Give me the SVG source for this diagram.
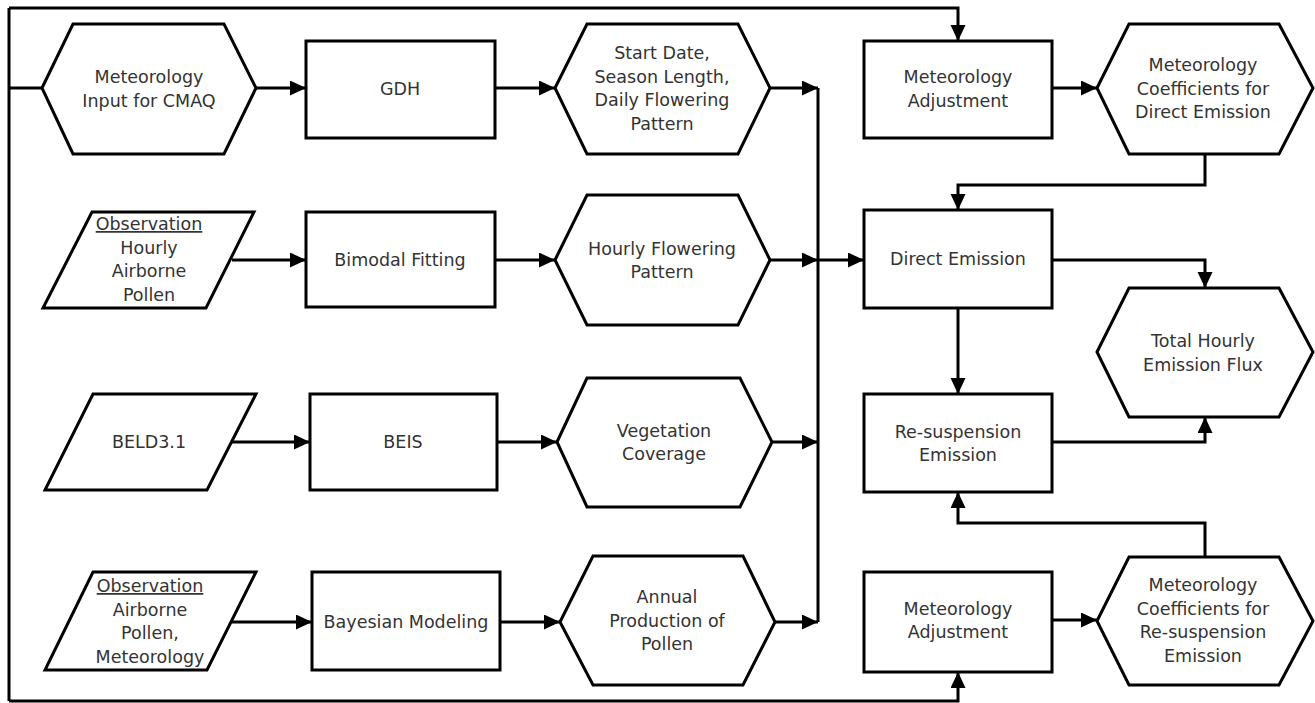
<svg xmlns="http://www.w3.org/2000/svg" width="1315" height="703" viewBox="0 0 1315 703">
<defs>
<marker id="ah" markerUnits="userSpaceOnUse" markerWidth="17" markerHeight="16" refX="16" refY="7.5" orient="auto">
<path d="M0,0 L16,7.5 L0,15 z" fill="#000"/>
</marker>
<style>
.n{fill:#fff;stroke:#000;stroke-width:3;stroke-linejoin:miter}
.c{fill:none;stroke:#000;stroke-width:3}
.a{marker-end:url(#ah)}
text{font-family:"DejaVu Sans","Liberation Sans",sans-serif;font-size:17.5px;fill:#333;text-anchor:middle}
.u{text-decoration:underline}
</style>
</defs>
<rect width="1315" height="703" fill="#fff"/>
<g id="connectors">
<path class="c" d="M9,8 V701"/>
<path class="c" d="M9,88 H42"/>
<path class="c a" d="M9,8 H958 V41"/>
<path class="c a" d="M9,701 H958 V672"/>
<path class="c a" d="M256,88 H306"/>
<path class="c a" d="M495,88 H555"/>
<path class="c a" d="M770,88 H818"/>
<path class="c" d="M818,88 V622"/>
<path class="c a" d="M232,260 H306"/>
<path class="c a" d="M495,260 H555"/>
<path class="c a" d="M770,260 H818"/>
<path class="c a" d="M818,260 H864"/>
<path class="c a" d="M232,442 H310"/>
<path class="c a" d="M497,442 H557"/>
<path class="c a" d="M772,442 H818"/>
<path class="c a" d="M232,622 H312"/>
<path class="c a" d="M500,622 H560"/>
<path class="c a" d="M775,622 H818"/>
<path class="c a" d="M1052,88 H1097"/>
<path class="c a" d="M1205,154 V185 H958 V210"/>
<path class="c a" d="M1052,260 H1205 V288"/>
<path class="c a" d="M958,308 V394"/>
<path class="c a" d="M1052,442 H1205 V417"/>
<path class="c a" d="M1205,557 V523 H958 V492"/>
<path class="c a" d="M1052,620 H1097"/>
</g>
<g id="met-input">
<polygon class="n" points="42,88 73,24 224,24 256,88 224,154 73,154"/>
<text x="149" y="83">Meteorology</text>
<text x="149" y="107">Input for CMAQ</text>
</g>
<g id="gdh">
<rect class="n" x="306" y="41" width="189" height="97"/>
<text x="400" y="95">GDH</text>
</g>
<g id="start-date">
<polygon class="n" points="555,88 587,24 738,24 770,88 738,154 587,154"/>
<text x="662" y="59">Start Date,</text>
<text x="662" y="82.5">Season Length,</text>
<text x="662" y="106">Daily Flowering</text>
<text x="662" y="129.5">Pattern</text>
</g>
<g id="obs-hourly">
<polygon class="n" points="92,212 254,212 206,308 43,308"/>
<text x="149" y="230" class="u">Observation</text>
<text x="149" y="253.5">Hourly</text>
<text x="149" y="277">Airborne</text>
<text x="149" y="300.5">Pollen</text>
</g>
<g id="bimodal">
<rect class="n" x="306" y="212" width="189" height="95"/>
<text x="400" y="266">Bimodal Fitting</text>
</g>
<g id="hourly-flowering">
<polygon class="n" points="555,260 587,195 738,195 770,260 738,325 587,325"/>
<text x="662" y="254.5">Hourly Flowering</text>
<text x="662" y="278">Pattern</text>
</g>
<g id="beld">
<polygon class="n" points="93,394 256,394 207,490 45,490"/>
<text x="149" y="448">BELD3.1</text>
</g>
<g id="beis">
<rect class="n" x="310" y="394" width="187" height="96"/>
<text x="403" y="448">BEIS</text>
</g>
<g id="vegetation">
<polygon class="n" points="557,442 587,378 740,378 772,442 740,507 587,507"/>
<text x="664" y="436.5">Vegetation</text>
<text x="664" y="460">Coverage</text>
</g>
<g id="obs-airborne">
<polygon class="n" points="93,572 256,572 207,670 45,670"/>
<text x="150" y="592" class="u">Observation</text>
<text x="150" y="615.5">Airborne</text>
<text x="150" y="639">Pollen,</text>
<text x="150" y="662.5">Meteorology</text>
</g>
<g id="bayesian">
<rect class="n" x="312" y="572" width="188" height="98"/>
<text x="406" y="628">Bayesian Modeling</text>
</g>
<g id="annual">
<polygon class="n" points="560,622 593,556 743,556 775,622 743,685 593,685"/>
<text x="667" y="603">Annual</text>
<text x="667" y="626.5">Production of</text>
<text x="667" y="650">Pollen</text>
</g>
<g id="met-adj-1">
<rect class="n" x="864" y="41" width="188" height="97"/>
<text x="958" y="83">Meteorology</text>
<text x="958" y="107">Adjustment</text>
</g>
<g id="met-coef-direct">
<polygon class="n" points="1097,88 1129,24 1279,24 1313,88 1279,154 1129,154"/>
<text x="1203" y="71">Meteorology</text>
<text x="1203" y="94.5">Coefficients for</text>
<text x="1203" y="118">Direct Emission</text>
</g>
<g id="direct-emission">
<rect class="n" x="864" y="210" width="188" height="98"/>
<text x="958" y="265">Direct Emission</text>
</g>
<g id="total-flux">
<polygon class="n" points="1097,352 1129,288 1279,288 1313,352 1279,417 1129,417"/>
<text x="1203" y="347">Total Hourly</text>
<text x="1203" y="370.5">Emission Flux</text>
</g>
<g id="resuspension">
<rect class="n" x="864" y="394" width="188" height="98"/>
<text x="958" y="437.5">Re-suspension</text>
<text x="958" y="461">Emission</text>
</g>
<g id="met-adj-2">
<rect class="n" x="864" y="572" width="188" height="100"/>
<text x="958" y="614.5">Meteorology</text>
<text x="958" y="638">Adjustment</text>
</g>
<g id="met-coef-resusp">
<polygon class="n" points="1097,621 1129,557 1279,557 1313,621 1279,685 1129,685"/>
<text x="1203" y="591">Meteorology</text>
<text x="1203" y="614.5">Coefficients for</text>
<text x="1203" y="638">Re-suspension</text>
<text x="1203" y="661.5">Emission</text>
</g>
</svg>
